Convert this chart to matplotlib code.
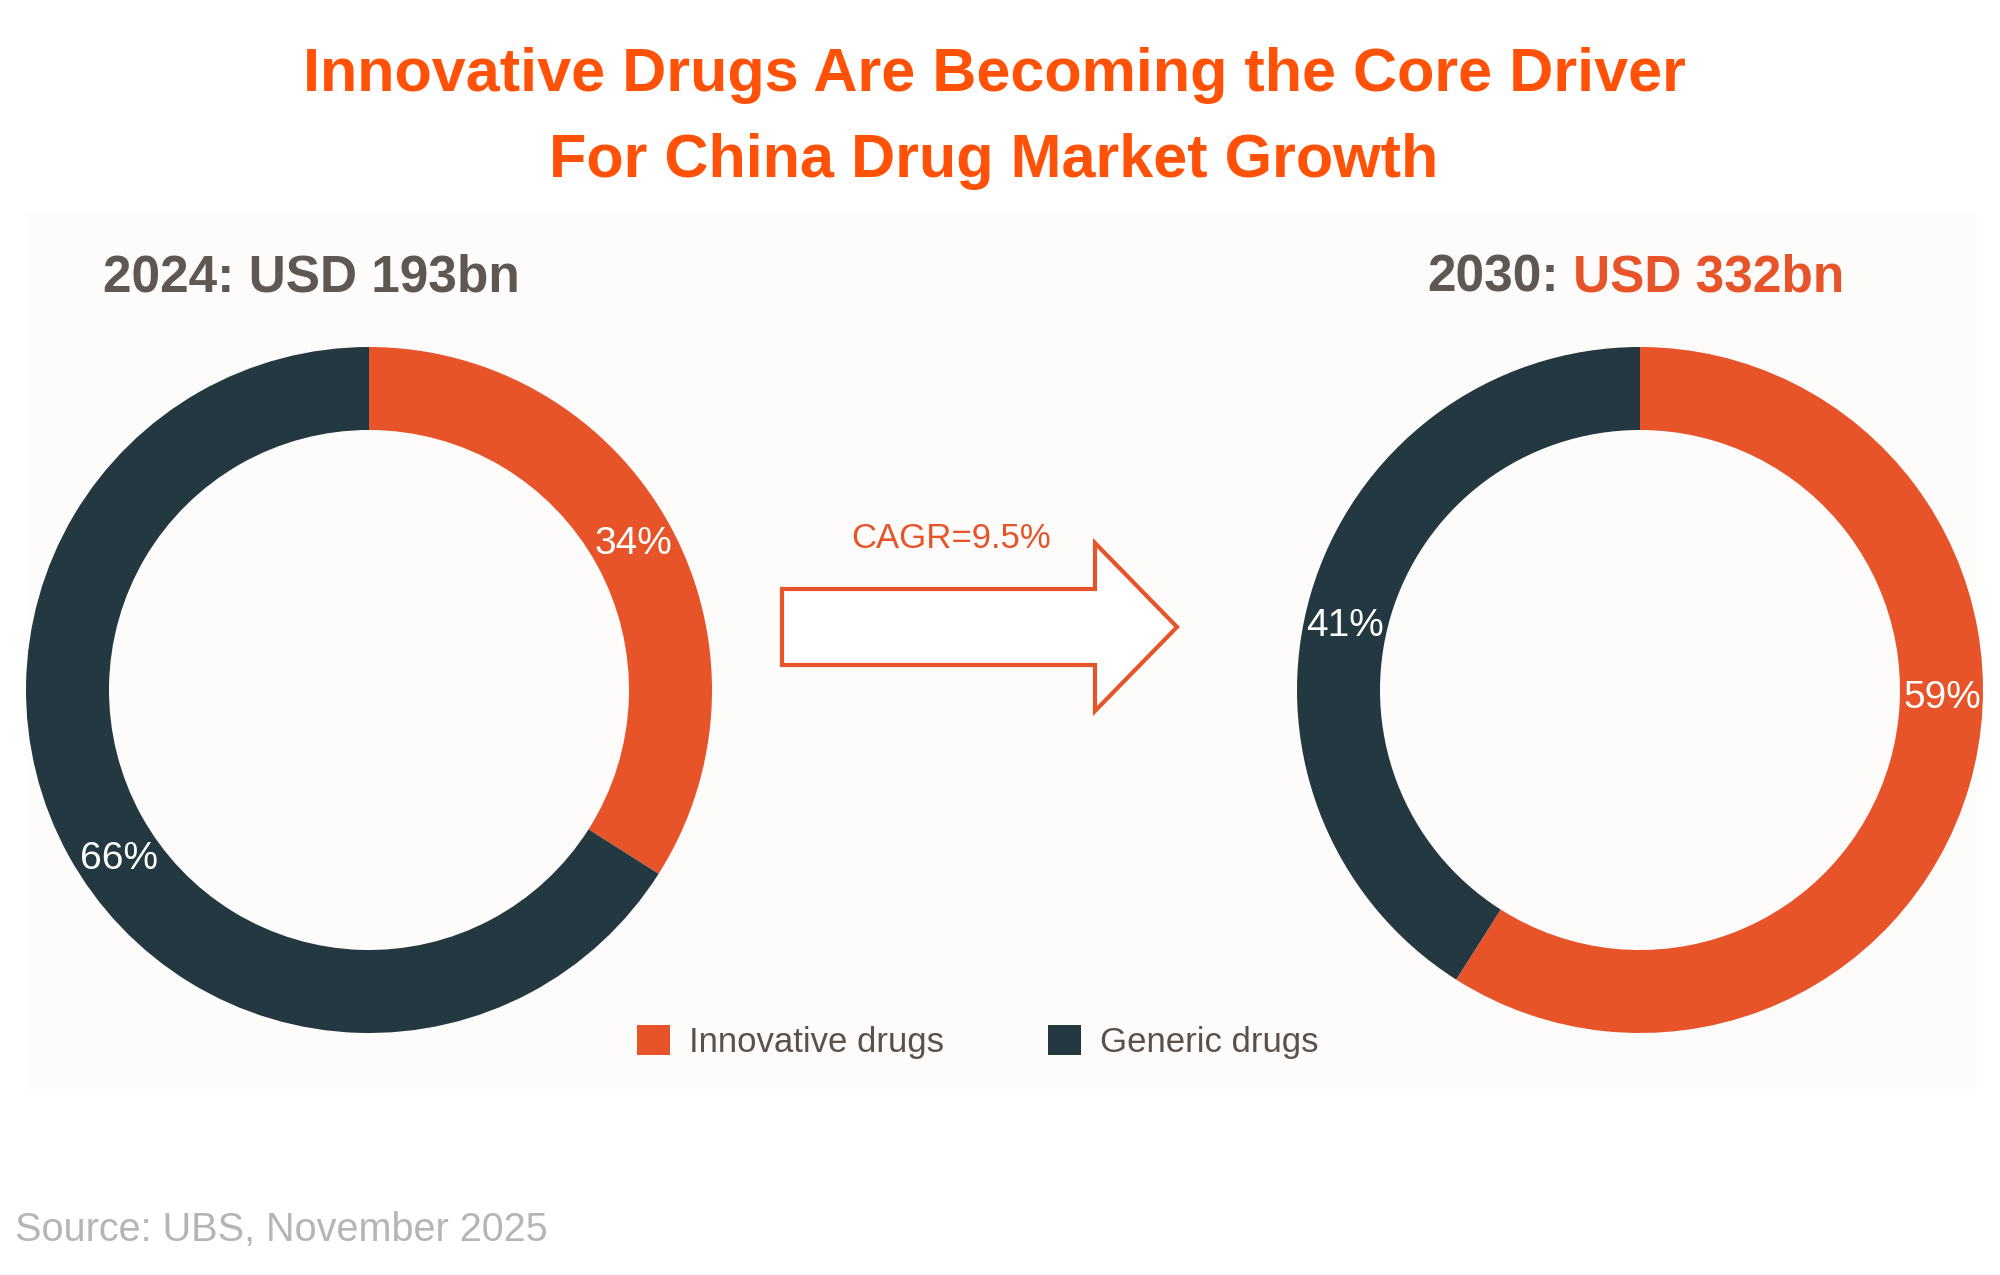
import matplotlib
matplotlib.use("Agg")
import matplotlib.pyplot as plt
from matplotlib.patches import Rectangle, FancyArrow
import numpy as np

# ---------------- data ----------------
categories = ["Innovative drugs", "Generic drugs"]
years = ["2024", "2030"]
market_size = ["USD 193bn", "USD 332bn"]
share_2024 = [34, 66]
share_2030 = [59, 41]
cagr_label = "CAGR=9.5%"
title_lines = ["Innovative Drugs Are Becoming the Core Driver",
               "For China Drug Market Growth"]
source_text = "Source: UBS, November 2025"

# ---------------- style ----------------
ORANGE = "#E8542A"
TITLE_ORANGE = "#FF5208"
DARK = "#233840"
GRAY = "#5E5753"
LEG_GRAY = "#5A514D"
SRC_GRAY = "#B5B5B5"
FONT = "Liberation Sans"

W, H = 2000, 1275
fig = plt.figure(figsize=(20, 12.75), dpi=100)
fig.patch.set_facecolor("white")
ax = fig.add_axes([0, 0, 1, 1])

def Y(py):  # convert from top-based pixel to data y
    return H - py

# panel
ax.add_patch(Rectangle((26, Y(1090)), 1951, 1090 - 213, facecolor="#FDFCFB",
                       edgecolor="none", zorder=0))

donut_centers = [(369, Y(690)), (1640, Y(690))]
R_OUT, RING_W = 343, 83
label_angles = [[29, 214], [-1.5, 167.7]]
label_r = 302

wedge_sets = []
for (cx, cy), shares, angs in zip(donut_centers, [share_2024, share_2030], label_angles):
    wedges, _ = ax.pie(shares, colors=[ORANGE, DARK], startangle=90, counterclock=False,
                       center=(cx, cy), radius=R_OUT, frame=True,
                       wedgeprops=dict(width=RING_W, edgecolor="none", linewidth=0))
    wedge_sets.append(wedges)
    for v, a in zip(shares, angs):
        t = np.deg2rad(a)
        ax.text(cx + label_r * np.cos(t), cy + label_r * np.sin(t), f"{v}%",
                ha="center", va="center", color="white", fontsize=28, family=FONT, zorder=5)

ax.set_xlim(0, W)
ax.set_ylim(0, H)
ax.set_aspect("equal")
ax.axis("off")

# title
for line, py in zip(title_lines, [75, 162]):
    ax.text(994, Y(py), line, ha="center", va="center", color=TITLE_ORANGE,
            fontsize=44, fontweight="bold", family=FONT)

# headings
HY = 278
ax.text(311, Y(HY), f"{years[0]}: {market_size[0]}", ha="center", va="center",
        color=GRAY, fontsize=37, fontweight="bold", family=FONT)

fig.canvas.draw()
r = fig.canvas.get_renderer()
h1 = ax.text(0, Y(HY), f"{years[1]}:", ha="left", va="center", color=GRAY,
             fontsize=37, fontweight="bold", family=FONT)
h2 = ax.text(0, Y(HY), market_size[1], ha="left", va="center", color=ORANGE,
             fontsize=37, fontweight="bold", family=FONT)
w1 = h1.get_window_extent(r).width
w2 = h2.get_window_extent(r).width
space = 0.278 * 37 * 100 / 72
total = w1 + space + w2
x0 = 1636 - total / 2
h1.set_x(x0)
h2.set_x(x0 + w1 + space)

# arrow
ax.add_patch(FancyArrow(782, Y(627), 395, 0, width=76, head_width=168, head_length=82,
                        length_includes_head=True, facecolor="white", edgecolor=ORANGE,
                        linewidth=3, joinstyle="miter", zorder=3))
ax.text(951, Y(539), cagr_label, ha="center", va="center", color=ORANGE,
        fontsize=25, family=FONT)

# legend
leg = ax.legend([wedge_sets[0][0], wedge_sets[0][1]], categories, ncol=2,
                loc="center left", bbox_to_anchor=(637, Y(1042)),
                bbox_transform=ax.transData, frameon=False, borderpad=0,
                borderaxespad=0, handlelength=0.95, handleheight=0.95,
                handletextpad=0.55, columnspacing=3.0,
                prop=dict(family=FONT, size=25))
for t in leg.get_texts():
    t.set_color(LEG_GRAY)

# source
ax.text(15, Y(1230), source_text, ha="left", va="center", color=SRC_GRAY,
        fontsize=28.5, family=FONT)

fig.savefig("out.png", dpi=100, facecolor="white")
